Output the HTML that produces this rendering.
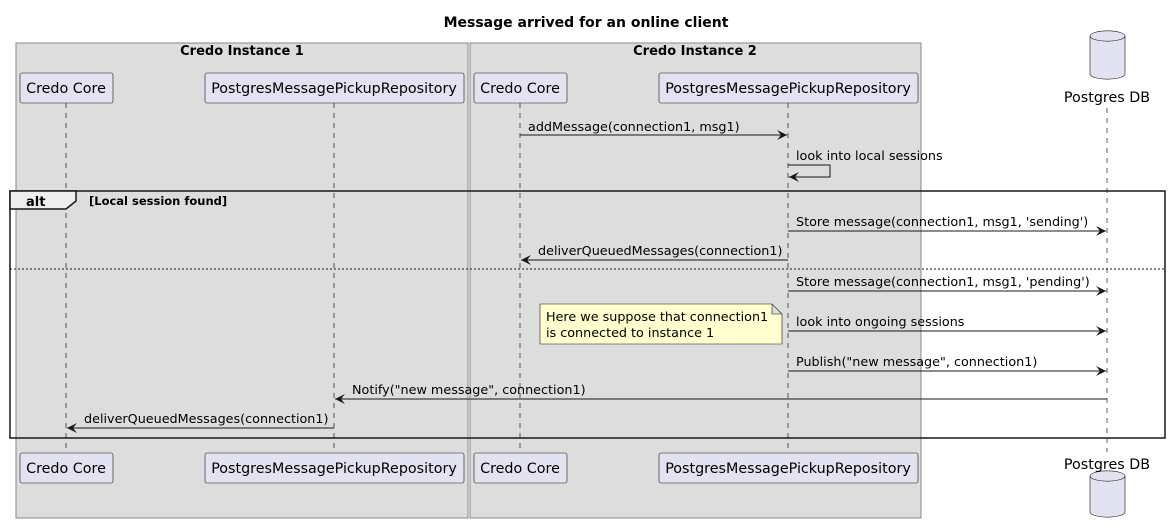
<!DOCTYPE html>
<html><head><style>body{margin:0;background:#fff}svg{display:block}text{font-family:"DejaVu Sans",sans-serif;font-size:12.75px;fill:#000}.b{font-weight:bold}.p{font-size:14.3px}</style></head><body>
<svg width="1170" height="531" viewBox="0 0 1170 531" xmlns="http://www.w3.org/2000/svg">
<defs><marker id="a" viewBox="0 0 10 10" refX="10" refY="5" markerWidth="12" markerHeight="10" markerUnits="userSpaceOnUse" orient="auto"><path d="M0,0 L10,5 L0,10 L4,5 Z" fill="#181818"/></marker></defs>
<text x="586" y="27" text-anchor="middle" class="b" style="font-size:14px">Message arrived for an online client</text>
<rect x="16" y="43" width="452" height="475" fill="#ddd" stroke="#888"/>
<rect x="470" y="43" width="451" height="475" fill="#ddd" stroke="#888"/>
<text x="242" y="55" text-anchor="middle" class="b" style="font-size:13px">Credo Instance 1</text>
<text x="695" y="55" text-anchor="middle" class="b" style="font-size:13px">Credo Instance 2</text>
<g stroke="#181818" stroke-dasharray="5,5" stroke-width="0.7"><line x1="66" y1="103" x2="66" y2="453"/><line x1="334" y1="103" x2="334" y2="453"/><line x1="520" y1="103" x2="520" y2="453"/><line x1="788" y1="103" x2="788" y2="453"/><line x1="1107" y1="108" x2="1107" y2="452"/></g>
<g fill="#e2e2f0" stroke="#181818" stroke-width="0.6">
<rect x="20" y="73" width="93" height="30" rx="2"/><rect x="205" y="73" width="259" height="30" rx="2"/><rect x="474" y="73" width="93" height="30" rx="2"/><rect x="659" y="73" width="259" height="30" rx="2"/>
<rect x="20" y="453" width="93" height="30" rx="2"/><rect x="205" y="453" width="259" height="30" rx="2"/><rect x="474" y="453" width="93" height="30" rx="2"/><rect x="659" y="453" width="259" height="30" rx="2"/>
<path d="M1090,36 a17,5 0 0 1 35,0 v38 a17,5 0 0 1 -35,0 Z"/><path d="M1090,36 a17,5 0 0 0 35,0" fill="none"/>
<path d="M1090,476 a17,5 0 0 1 35,0 v36 a17,5 0 0 1 -35,0 Z"/><path d="M1090,476 a17,5 0 0 0 35,0" fill="none"/>
</g>
<g text-anchor="middle"><text class="p" x="66" y="93">Credo Core</text><text class="p" x="334" y="93">PostgresMessagePickupRepository</text><text class="p" x="520" y="93">Credo Core</text><text class="p" x="788" y="93">PostgresMessagePickupRepository</text>
<text class="p" x="66" y="473">Credo Core</text><text class="p" x="334" y="473">PostgresMessagePickupRepository</text><text class="p" x="520" y="473">Credo Core</text><text class="p" x="788" y="473">PostgresMessagePickupRepository</text>
<text class="p" x="1107" y="102">Postgres DB</text><text class="p" x="1107" y="469">Postgres DB</text></g>
<g stroke="#181818" fill="none">
<line x1="520" y1="135" x2="787" y2="135" marker-end="url(#a)"/>
<path d="M788,165 H830 V177 H789" marker-end="url(#a)"/>
<line x1="788" y1="231" x2="1106" y2="231" marker-end="url(#a)"/>
<line x1="788" y1="260" x2="521" y2="260" marker-end="url(#a)"/>
<line x1="788" y1="291" x2="1106" y2="291" marker-end="url(#a)"/>
<line x1="788" y1="331" x2="1106" y2="331" marker-end="url(#a)"/>
<line x1="788" y1="371" x2="1106" y2="371" marker-end="url(#a)"/>
<line x1="1107" y1="399" x2="335" y2="399" marker-end="url(#a)"/>
<line x1="334" y1="428" x2="67" y2="428" marker-end="url(#a)"/>
<rect x="10" y="191" width="1155" height="247" stroke-width="1.5"/>
<line x1="10" y1="269" x2="1165" y2="269" stroke-dasharray="2,2" stroke-width="1"/>
<path d="M10,191 H76 V201 L66,209 H10 Z" fill="#eee" stroke-width="1.5"/>
<path d="M540,304 H772 L782,314 V344 H540 Z M772,304 V314 H782" fill="#fefece" stroke-width="0.6"/>
</g>
<text x="26" y="206" class="b" style="font-size:13px">alt</text>
<text x="89" y="205" class="b" style="font-size:11.5px">[Local session found]</text>
<text x="528" y="131">addMessage(connection1, msg1)</text>
<text x="796" y="160">look into local sessions</text>
<text x="796" y="226">Store message(connection1, msg1, 'sending')</text>
<text x="538" y="255">deliverQueuedMessages(connection1)</text>
<text x="796" y="286">Store message(connection1, msg1, 'pending')</text>
<text x="546" y="321">Here we suppose that connection1</text>
<text x="546" y="337">is connected to instance 1</text>
<text x="796" y="326">look into ongoing sessions</text>
<text x="796" y="366">Publish("new message", connection1)</text>
<text x="352" y="394">Notify("new message", connection1)</text>
<text x="84" y="423">deliverQueuedMessages(connection1)</text>
</svg>
</body></html>
